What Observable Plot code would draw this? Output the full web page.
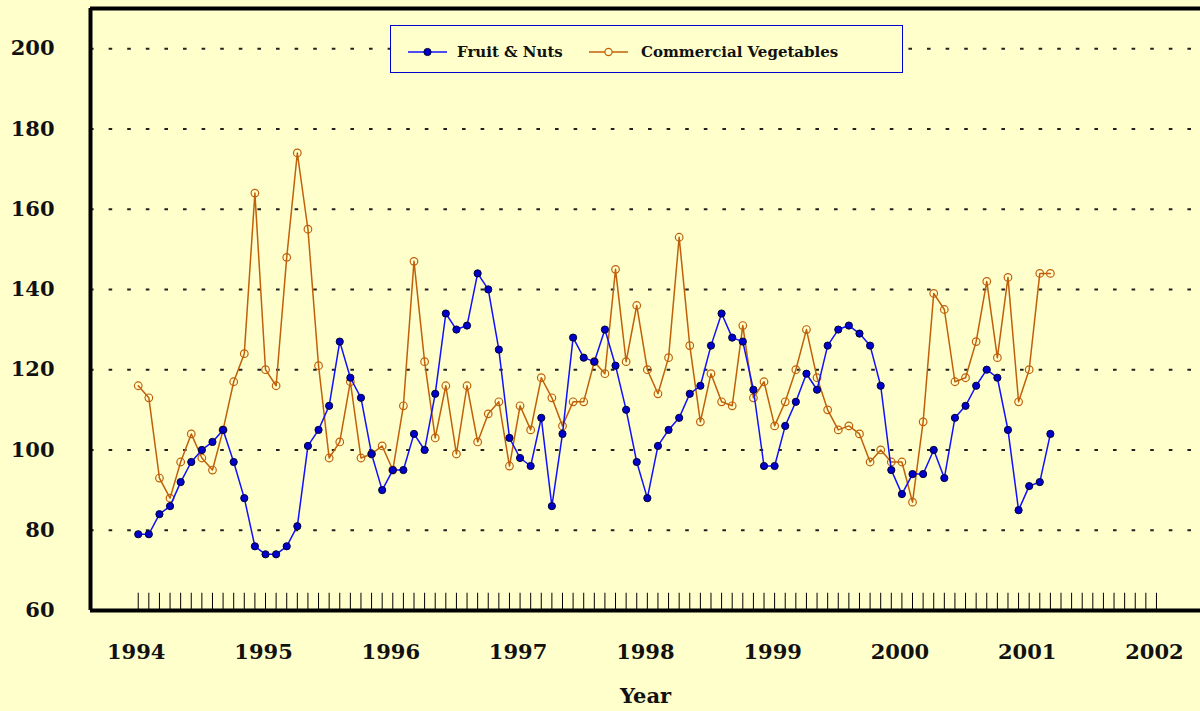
<!DOCTYPE html>
<html>
<head>
<meta charset="utf-8">
<script src="https://cdn.jsdelivr.net/npm/d3@7"></script>
<script src="https://cdn.jsdelivr.net/npm/@observablehq/plot@0.6"></script>
<style>
  html, body { margin: 0; padding: 0; background: #FFFFCC; }
  #wrap { position: relative; width: 1200px; height: 711px; background: #FFFFCC; overflow: hidden; }
  #legend {
    position: absolute; left: 390px; top: 25px; width: 511px; height: 46px;
    border: 1.5px solid #0000CC; background: #FFFFCC;
    font-family: "DejaVu Serif", serif; font-weight: bold; font-size: 15px; color: #111;
  }
  #legend .item { position: absolute; top: 3px; height: 46px; display: flex; align-items: center; }
  #legend svg { display: block; }
</style>
</head>
<body>
<div id="wrap">
  <div id="chart"></div>
  <div id="legend">
    <div class="item" style="left:16px">
      <svg width="42" height="12"><line x1="1" y1="6" x2="40" y2="6" stroke="#1010FF" stroke-width="1.5"/><circle cx="20.5" cy="6" r="3.6" fill="#0000CC" stroke="#000033" stroke-width="1"/></svg>
      <span style="margin-left:8px">Fruit &amp; Nuts</span>
    </div>
    <div class="item" style="left:197px">
      <svg width="42" height="12"><line x1="1" y1="6" x2="40" y2="6" stroke="#C0600A" stroke-width="1.5"/><circle cx="20.5" cy="6" r="3.6" fill="#FFFFCC" stroke="#C0600A" stroke-width="1.2"/></svg>
      <span style="margin-left:11px">Commercial Vegetables</span>
    </div>
  </div>
</div>
<script>
// Monthly index values, January 1994 through March 2001
const startYear = 1994;
const fruitNuts = [
  79, 79, 84, 86, 92, 97, 100, 102, 105, 97, 88, 76,
  74, 74, 76, 81, 101, 105, 111, 127, 118, 113, 99, 90,
  95, 95, 104, 100, 114, 134, 130, 131, 144, 140, 125, 103,
  98, 96, 108, 86, 104, 128, 123, 122, 130, 121, 110, 97,
  88, 101, 105, 108, 114, 116, 126, 134, 128, 127, 115, 96,
  96, 106, 112, 119, 115, 126, 130, 131, 129, 126, 116, 95,
  89, 94, 94, 100, 93, 108, 111, 116, 120, 118, 105, 85,
  91, 92, 104
];
const commercialVegetables = [
  116, 113, 93, 88, 97, 104, 98, 95, 105, 117, 124, 164,
  120, 116, 148, 174, 155, 121, 98, 102, 117, 98, 99, 101,
  95, 111, 147, 122, 103, 116, 99, 116, 102, 109, 112, 96,
  111, 105, 118, 113, 106, 112, 112, 122, 119, 145, 122, 136,
  120, 114, 123, 153, 126, 107, 119, 112, 111, 131, 113, 117,
  106, 112, 120, 130, 118, 110, 105, 106, 104, 97, 100, 97,
  97, 87, 107, 139, 135, 117, 118, 127, 142, 123, 143, 112,
  120, 144, 144
];
const yearLabels = [1994, 1995, 1996, 1997, 1998, 1999, 2000, 2001, 2002];
const yTickValues = [60, 80, 100, 120, 140, 160, 180, 200];
const gridValues = [80, 100, 120, 140, 160, 180, 200];
const seriesNames = ["Fruit & Nuts", "Commercial Vegetables"];

const xDomain = [1993.625, 2002.346];
const yDomain = [60, 210];

const toRows = (values, name) => values.map((v, i) => ({x: startYear + i / 12, value: v, series: name}));
const fruitRows = toRows(fruitNuts, seriesNames[0]);
const vegRows = toRows(commercialVegetables, seriesNames[1]);
const monthTicks = d3.range(0, (yearLabels[yearLabels.length - 1] - startYear) * 12 + 1).map(i => startYear + i / 12);

const blue = "#1010FF";
const orange = "#C0600A";

const chart = Plot.plot({
  width: 1200,
  height: 711,
  marginLeft: 90,
  marginRight: 0,
  marginTop: 8,
  marginBottom: 101,
  style: {background: "#FFFFCC", fontFamily: "DejaVu Serif, serif", fontWeight: "bold", color: "#111", overflow: "visible"},
  x: {type: "linear", domain: xDomain},
  y: {type: "linear", domain: yDomain},
  marks: [
    Plot.ruleY(gridValues, {stroke: "#222", strokeWidth: 2, strokeDasharray: "3.6,15", strokeDashoffset: 0}),
    Plot.ruleX(monthTicks, {x: d => d, y1: yDomain[0], y2: 64.3, stroke: "#000", strokeWidth: 1}),
    Plot.axisY(yTickValues, {tickSize: 0, tickPadding: 36, fontSize: 21, fontWeight: "bold", label: null}),
    Plot.axisX(yearLabels, {tickSize: 0, tickPadding: 34, fontSize: 21, fontWeight: "bold", label: null, tickFormat: d => String(d), dx: -2}),
    Plot.text(["Year"], {frameAnchor: "bottom", dy: 92, fontSize: 21, fontWeight: "bold", fill: "#111"}),
    Plot.line(vegRows, {x: "x", y: "value", stroke: orange, strokeWidth: 1.5}),
    Plot.dot(vegRows, {x: "x", y: "value", r: 3.8, stroke: orange, strokeWidth: 1.2, fill: "none"}),
    Plot.line(fruitRows, {x: "x", y: "value", stroke: blue, strokeWidth: 1.5}),
    Plot.dot(fruitRows, {x: "x", y: "value", r: 3.6, fill: "#0000CC", stroke: "#000033", strokeWidth: 1}),
    Plot.ruleX([xDomain[0]], {stroke: "#000", strokeWidth: 4}),
    Plot.ruleY([yDomain[0]], {stroke: "#000", strokeWidth: 4}),
    Plot.ruleY([yDomain[1]], {stroke: "#000", strokeWidth: 4})
  ]
});
document.getElementById("chart").appendChild(chart);
</script>
</body>
</html>
